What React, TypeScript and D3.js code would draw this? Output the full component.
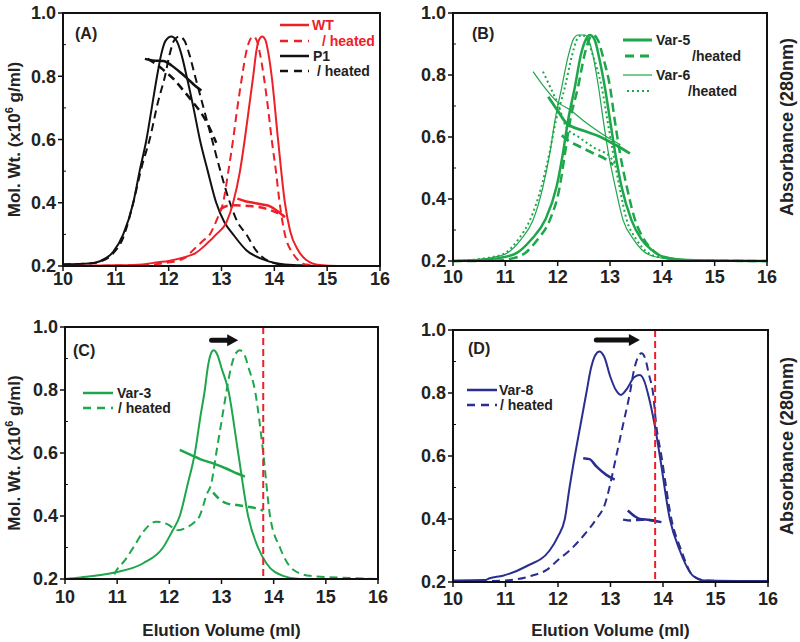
import React from 'react';
import * as d3 from 'd3';

type Pt = [number, number];

// ---- data (elution volume ml, value) ----
const xTicks = [10, 11, 12, 13, 14, 15, 16];
const yTicks = [0.2, 0.4, 0.6, 0.8, 1.0];
const yMinorTicks = [0.3, 0.5, 0.7, 0.9];

// (A)
const wtAbs: Pt[] = [[10, 0.2], [11, 0.202], [11.5, 0.205], [11.8, 0.212], [12.0, 0.216], [12.3, 0.228], [12.5, 0.24], [12.72, 0.27], [12.9, 0.3], [13.1, 0.34], [13.22, 0.4], [13.35, 0.5], [13.44, 0.6], [13.52, 0.7], [13.6, 0.8], [13.66, 0.88], [13.71, 0.915], [13.77, 0.926], [13.83, 0.915], [13.89, 0.87], [13.95, 0.8], [14.07, 0.6], [14.2, 0.4], [14.3, 0.31], [14.45, 0.25], [14.6, 0.22], [14.86, 0.203], [15.2, 0.2], [16, 0.2]];
const wtHeatedAbs: Pt[] = [[10, 0.2], [11.5, 0.203], [11.96, 0.21], [12.3, 0.225], [12.46, 0.25], [12.65, 0.28], [12.78, 0.3], [12.92, 0.35], [13.03, 0.4], [13.13, 0.5], [13.22, 0.6], [13.3, 0.7], [13.39, 0.8], [13.46, 0.87], [13.53, 0.912], [13.6, 0.926], [13.67, 0.912], [13.73, 0.87], [13.8, 0.8], [13.88, 0.7], [13.95, 0.6], [14.03, 0.5], [14.1, 0.4], [14.2, 0.3], [14.35, 0.24], [14.6, 0.205], [15, 0.2], [16, 0.2]];
const wtMw: Pt[] = [[13.3, 0.413], [13.45, 0.405], [13.6, 0.4], [13.75, 0.395], [13.9, 0.39], [14.05, 0.375], [14.2, 0.355]];
const wtHeatedMw: Pt[] = [[12.98, 0.38], [13.1, 0.39], [13.25, 0.392], [13.5, 0.39], [13.75, 0.385], [13.95, 0.375], [14.1, 0.365], [14.2, 0.355]];
const p1Abs: Pt[] = [[10, 0.205], [10.5, 0.208], [10.7, 0.215], [10.95, 0.245], [11.14, 0.3], [11.33, 0.4], [11.45, 0.5], [11.58, 0.6], [11.68, 0.7], [11.78, 0.8], [11.86, 0.87], [11.94, 0.912], [12.05, 0.926], [12.15, 0.912], [12.24, 0.87], [12.34, 0.8], [12.47, 0.7], [12.59, 0.6], [12.74, 0.5], [12.9, 0.4], [13.05, 0.34], [13.22, 0.3], [13.47, 0.25], [13.8, 0.22], [14.2, 0.205], [15, 0.2], [16, 0.2]];
const p1HeatedAbs: Pt[] = [[10, 0.205], [10.5, 0.208], [10.7, 0.214], [10.95, 0.24], [11.14, 0.29], [11.33, 0.4], [11.5, 0.52], [11.64, 0.6], [11.8, 0.72], [11.93, 0.8], [12.02, 0.87], [12.1, 0.912], [12.2, 0.926], [12.3, 0.912], [12.39, 0.87], [12.5, 0.8], [12.66, 0.7], [12.82, 0.6], [12.98, 0.5], [13.16, 0.4], [13.3, 0.34], [13.47, 0.3], [13.65, 0.25], [13.98, 0.21], [14.3, 0.202], [15, 0.2], [16, 0.2]];
const p1Mw: Pt[] = [[11.55, 0.855], [11.7, 0.85], [11.9, 0.848], [12.05, 0.835], [12.2, 0.815], [12.34, 0.795], [12.5, 0.77], [12.62, 0.755]];
const p1HeatedMw: Pt[] = [[11.6, 0.855], [11.75, 0.84], [11.9, 0.82], [12.1, 0.79], [12.27, 0.757], [12.45, 0.72], [12.59, 0.69], [12.75, 0.645], [12.9, 0.59]];

// (B)
const var5Abs: Pt[] = [[10, 0.2], [10.5, 0.203], [10.9, 0.21], [11.22, 0.226], [11.5, 0.27], [11.76, 0.332], [11.98, 0.44], [12.1, 0.547], [12.2, 0.655], [12.33, 0.762], [12.45, 0.87], [12.54, 0.915], [12.62, 0.929], [12.71, 0.912], [12.8, 0.85], [12.9, 0.762], [13.0, 0.655], [13.1, 0.548], [13.22, 0.44], [13.41, 0.332], [13.6, 0.27], [13.8, 0.235], [14.0, 0.215], [14.5, 0.203], [16, 0.2]];
const var5HeatedAbs: Pt[] = [[10, 0.2], [10.8, 0.201], [11.1, 0.207], [11.38, 0.226], [11.62, 0.27], [11.85, 0.332], [12.04, 0.44], [12.14, 0.547], [12.24, 0.655], [12.39, 0.762], [12.52, 0.87], [12.6, 0.915], [12.68, 0.929], [12.77, 0.912], [12.88, 0.85], [13.0, 0.762], [13.09, 0.655], [13.19, 0.548], [13.32, 0.44], [13.48, 0.332], [13.65, 0.27], [13.85, 0.23], [14.1, 0.21], [14.6, 0.202], [16, 0.2]];
const var6Abs: Pt[] = [[10, 0.2], [10.5, 0.205], [10.8, 0.213], [11.03, 0.225], [11.3, 0.27], [11.53, 0.332], [11.72, 0.44], [11.85, 0.547], [11.95, 0.655], [12.08, 0.762], [12.2, 0.86], [12.3, 0.915], [12.39, 0.929], [12.52, 0.929], [12.62, 0.9], [12.78, 0.762], [12.87, 0.655], [12.97, 0.548], [13.1, 0.44], [13.25, 0.332], [13.45, 0.27], [13.65, 0.23], [13.9, 0.212], [14.4, 0.203], [16, 0.2]];
const var6HeatedAbs: Pt[] = [[10, 0.2], [10.5, 0.206], [10.75, 0.213], [10.99, 0.225], [11.25, 0.27], [11.47, 0.332], [11.69, 0.44], [11.84, 0.547], [11.97, 0.655], [12.14, 0.762], [12.27, 0.86], [12.37, 0.915], [12.46, 0.929], [12.56, 0.915], [12.68, 0.86], [12.84, 0.762], [12.95, 0.655], [13.06, 0.548], [13.18, 0.44], [13.32, 0.332], [13.5, 0.27], [13.7, 0.23], [13.95, 0.212], [14.5, 0.203], [16, 0.2]];
const var5Mw: Pt[] = [[11.82, 0.73], [12.0, 0.685], [12.17, 0.644], [12.5, 0.62], [12.81, 0.601], [13.1, 0.575], [13.38, 0.547]];
const var5HeatedMw: Pt[] = [[12.08, 0.606], [12.2, 0.588], [12.36, 0.574], [12.65, 0.55], [12.94, 0.526], [13.06, 0.51]];
const var6Mw: Pt[] = [[11.53, 0.811], [11.75, 0.76], [11.98, 0.715], [12.24, 0.687], [12.55, 0.645], [12.85, 0.61], [13.2, 0.575]];
const var6HeatedMw: Pt[] = [[11.72, 0.811], [11.86, 0.76], [12.0, 0.709], [12.17, 0.63], [12.4, 0.6], [12.7, 0.565], [13.0, 0.536], [13.13, 0.505]];

// (C)
const var3Abs: Pt[] = [[10, 0.2], [10.3, 0.205], [10.93, 0.22], [11.5, 0.25], [11.88, 0.3], [12.05, 0.35], [12.2, 0.4], [12.35, 0.5], [12.49, 0.6], [12.6, 0.72], [12.68, 0.8], [12.74, 0.875], [12.79, 0.912], [12.85, 0.926], [12.92, 0.912], [13.0, 0.87], [13.13, 0.8], [13.32, 0.6], [13.51, 0.4], [13.7, 0.3], [13.86, 0.25], [14.18, 0.21], [14.5, 0.2], [16, 0.2]];
const var3HeatedAbs: Pt[] = [[10, 0.2], [10.9, 0.2], [10.96, 0.22], [11.15, 0.26], [11.31, 0.3], [11.5, 0.35], [11.75, 0.382], [11.95, 0.375], [12.17, 0.355], [12.35, 0.365], [12.48, 0.38], [12.58, 0.4], [12.72, 0.47], [12.8, 0.5], [12.9, 0.6], [13.0, 0.7], [13.1, 0.8], [13.18, 0.87], [13.26, 0.912], [13.35, 0.926], [13.44, 0.912], [13.52, 0.87], [13.64, 0.8], [13.8, 0.6], [13.93, 0.4], [14.12, 0.3], [14.37, 0.23], [14.7, 0.21], [15.5, 0.203], [16, 0.2]];
const var3Mw: Pt[] = [[12.2, 0.61], [12.4, 0.595], [12.6, 0.58], [12.84, 0.567], [13.1, 0.55], [13.3, 0.535], [13.45, 0.525]];
const var3HeatedMw: Pt[] = [[12.84, 0.474], [12.95, 0.455], [13.1, 0.44], [13.3, 0.435], [13.48, 0.43], [13.65, 0.425], [13.8, 0.417]];
const cMarker = 13.8;
const cArrow: Pt[] = [[12.81, 0.958], [13.32, 0.958]];

// (D)
const var8Abs: Pt[] = [[10, 0.205], [10.6, 0.206], [10.7, 0.212], [10.95, 0.22], [11.4, 0.25], [11.84, 0.3], [12.0, 0.345], [12.13, 0.4], [12.22, 0.5], [12.32, 0.6], [12.43, 0.7], [12.54, 0.8], [12.63, 0.88], [12.71, 0.92], [12.79, 0.932], [12.88, 0.915], [13.0, 0.85], [13.1, 0.81], [13.2, 0.794], [13.32, 0.815], [13.45, 0.85], [13.56, 0.857], [13.65, 0.835], [13.71, 0.8], [13.84, 0.7], [13.94, 0.6], [14.13, 0.4], [14.32, 0.3], [14.57, 0.22], [14.8, 0.205], [16, 0.203]];
const var8HeatedAbs: Pt[] = [[10, 0.2], [11.0, 0.205], [11.5, 0.22], [11.8, 0.24], [12.0, 0.27], [12.22, 0.3], [12.5, 0.35], [12.73, 0.4], [12.9, 0.45], [12.98, 0.5], [13.11, 0.6], [13.24, 0.7], [13.37, 0.8], [13.45, 0.875], [13.52, 0.912], [13.59, 0.926], [13.66, 0.91], [13.73, 0.86], [13.81, 0.8], [13.87, 0.7], [13.97, 0.6], [14.16, 0.4], [14.35, 0.3], [14.57, 0.22], [14.8, 0.205], [16, 0.2]];
const var8Mw1: Pt[] = [[12.48, 0.593], [12.6, 0.59], [12.73, 0.567], [12.92, 0.54], [13.08, 0.525]];
const var8Mw2: Pt[] = [[13.33, 0.427], [13.45, 0.41], [13.56, 0.4], [13.75, 0.397], [13.97, 0.39]];
const var8HeatedMw: Pt[] = [[13.24, 0.398], [13.4, 0.395], [13.6, 0.398], [13.8, 0.395], [13.94, 0.39]];
const dMarker = 13.85;
const dArrow: Pt[] = [[12.73, 0.968], [13.56, 0.968]];

const RED = '#ee2027';
const BLACK = '#111';
const GREEN = '#1ea64b';
const BLUE = '#2a2e8e';
const FONT = '"Liberation Sans", Arial, Helvetica, sans-serif';

type Series = { data: Pt[]; color: string; width: number; dash?: string };
type LegendItem = { label: string; color: string; width: number; dash?: string; y: number; x0: number; x1: number; tx: number; textColor?: string };

type PanelProps = {
  box: { left: number; right: number; top: number; bottom: number };
  tag: string;
  tagPos: Pt;
  series: Series[];
  legend: LegendItem[];
  tickOffset: number;
  leftTitle?: boolean;
  rightTitle?: boolean;
  bottomTitle?: boolean;
  marker?: number;
  arrow?: Pt[];
};

const Panel = ({ box, tag, tagPos, series, legend, tickOffset, leftTitle, rightTitle, bottomTitle, marker, arrow }: PanelProps) => {
  const x = d3.scaleLinear().domain([10, 16]).range([box.left, box.right]);
  const y = d3.scaleLinear().domain([0.2, 1.0]).range([box.bottom, box.top]);
  const line = d3.line<Pt>().x(d => x(d[0])).y(d => y(d[1])).curve(d3.curveMonotoneX);
  const midY = (box.top + box.bottom) / 2;

  let arrowEl = null;
  if (arrow) {
    const ax0 = x(arrow[0][0]);
    const ax1 = x(arrow[1][0]);
    const ay = y(arrow[0][1]);
    arrowEl = (
      <g>
        <line x1={ax0} x2={ax1 - 8} y1={ay} y2={ay} stroke={BLACK} strokeWidth={5} strokeLinecap="round" />
        <path d={`M${ax1},${ay} L${ax1 - 11},${ay - 6} L${ax1 - 11},${ay + 6} Z`} fill={BLACK} />
      </g>
    );
  }

  return (
    <g>
      {series.map((s, i) => (
        <path key={i} d={line(s.data) || ''} fill="none" stroke={s.color} strokeWidth={s.width}
          strokeDasharray={s.dash} strokeLinejoin="round" />
      ))}
      {marker !== undefined && (
        <line x1={x(marker)} x2={x(marker)} y1={box.top} y2={box.bottom} stroke={RED} strokeWidth={2} strokeDasharray="7,4" />
      )}
      {arrowEl}
      <rect x={box.left} y={box.top} width={box.right - box.left} height={box.bottom - box.top} fill="none" stroke={BLACK} strokeWidth={2} />
      {xTicks.map(t => (
        <g key={t}>
          <line x1={x(t)} x2={x(t)} y1={box.bottom} y2={box.bottom + 5} stroke={BLACK} strokeWidth={1.5} />
          <text x={x(t)} y={box.bottom + tickOffset} textAnchor="middle" fontSize={18} fontWeight="bold" fontFamily={FONT} fill="#222">{t}</text>
        </g>
      ))}
      {yTicks.map(t => (
        <g key={t}>
          <line x1={box.left - 5} x2={box.left} y1={y(t)} y2={y(t)} stroke={BLACK} strokeWidth={1.5} />
          <text x={box.left - 7} y={y(t)} dy="0.35em" textAnchor="end" fontSize={18} fontWeight="bold" fontFamily={FONT} fill="#222">{t.toFixed(1)}</text>
        </g>
      ))}
      {yMinorTicks.map(t => (
        <line key={t} x1={box.left} x2={box.left + 3} y1={y(t)} y2={y(t)} stroke={BLACK} strokeWidth={1} />
      ))}
      <text x={tagPos[0]} y={tagPos[1]} dy="0.35em" fontSize={16} fontWeight="bold" fontFamily={FONT} fill="#222">{tag}</text>
      {legend.map((l, i) => (
        <g key={i}>
          <line x1={l.x0} x2={l.x1} y1={l.y} y2={l.y} stroke={l.color} strokeWidth={l.width} strokeDasharray={l.dash} />
          <text x={l.tx} y={l.y} dy="0.35em" fontSize={14} fontWeight="bold" fontFamily={FONT} fill={l.textColor || '#222'}>{l.label}</text>
        </g>
      ))}
      {leftTitle && (
        <text transform={`translate(14,${midY}) rotate(-90)`} textAnchor="middle" dy="0.35em" fontSize={17} fontWeight="bold" fontFamily={FONT} fill="#222">
          Mol. Wt. (x10<tspan fontSize={11} dy="-7">6</tspan><tspan dy="7"> g/ml)</tspan>
        </text>
      )}
      {rightTitle && (
        <text transform={`translate(787,${midY - 10}) rotate(-90)`} textAnchor="middle" dy="0.35em" fontSize={18} fontWeight="bold" fontFamily={FONT} fill="#222">
          Absorbance (280nm)
        </text>
      )}
      {bottomTitle && (
        <text x={(box.left + box.right) / 2} y={630} dy="0.35em" textAnchor="middle" fontSize={17} fontWeight="bold" fontFamily={FONT} fill="#222">
          Elution Volume (ml)
        </text>
      )}
    </g>
  );
};

export default function App() {
  return (
    <svg width={800} height={642} style={{ position: 'absolute', left: 0, top: 0, background: '#fff' }}>
      <Panel
        box={{ left: 63, right: 380, top: 13, bottom: 266 }}
        tag="(A)" tagPos={[75, 33]} tickOffset={19} leftTitle
        series={[
          { data: p1Abs, color: BLACK, width: 2 },
          { data: p1HeatedAbs, color: BLACK, width: 2, dash: '8,5' },
          { data: p1Mw, color: BLACK, width: 2.5 },
          { data: p1HeatedMw, color: BLACK, width: 2.5, dash: '8,5' },
          { data: wtAbs, color: RED, width: 2 },
          { data: wtHeatedAbs, color: RED, width: 2, dash: '8,5' },
          { data: wtMw, color: RED, width: 2.5 },
          { data: wtHeatedMw, color: RED, width: 2.5, dash: '8,5' },
        ]}
        legend={[
          { label: 'WT', color: RED, width: 2.5, y: 25, x0: 280, x1: 309, tx: 312, textColor: RED },
          { label: '/ heated', color: RED, width: 2.5, dash: '8,6', y: 41, x0: 280, x1: 309, tx: 322, textColor: RED },
          { label: 'P1', color: BLACK, width: 2.5, y: 56, x0: 280, x1: 309, tx: 313 },
          { label: '/ heated', color: BLACK, width: 2.5, dash: '8,6', y: 71, x0: 280, x1: 309, tx: 317 },
        ]}
      />
      <Panel
        box={{ left: 453, right: 767, top: 13, bottom: 261 }}
        tag="(B)" tagPos={[472, 33]} tickOffset={22} rightTitle
        series={[
          { data: var6Abs, color: GREEN, width: 1.2 },
          { data: var6HeatedAbs, color: GREEN, width: 2, dash: '2,3' },
          { data: var5Abs, color: GREEN, width: 2.5 },
          { data: var5HeatedAbs, color: GREEN, width: 2.5, dash: '9,5' },
          { data: var6Mw, color: GREEN, width: 1.2 },
          { data: var6HeatedMw, color: GREEN, width: 2, dash: '2,3' },
          { data: var5Mw, color: GREEN, width: 2.8 },
          { data: var5HeatedMw, color: GREEN, width: 2.8, dash: '9,5' },
        ]}
        legend={[
          { label: 'Var-5', color: GREEN, width: 3, y: 40, x0: 623, x1: 652, tx: 656 },
          { label: '/heated', color: GREEN, width: 3, dash: '9,6', y: 56, x0: 625, x1: 652, tx: 692 },
          { label: 'Var-6', color: GREEN, width: 1.2, y: 75, x0: 623, x1: 652, tx: 656 },
          { label: '/heated', color: GREEN, width: 2, dash: '2,3', y: 91, x0: 627, x1: 652, tx: 688 },
        ]}
      />
      <Panel
        box={{ left: 65, right: 378, top: 327, bottom: 579 }}
        tag="(C)" tagPos={[73, 350]} tickOffset={24} leftTitle bottomTitle
        marker={cMarker} arrow={cArrow}
        series={[
          { data: var3Abs, color: GREEN, width: 2 },
          { data: var3HeatedAbs, color: GREEN, width: 2, dash: '8,5' },
          { data: var3Mw, color: GREEN, width: 2.5 },
          { data: var3HeatedMw, color: GREEN, width: 2.5, dash: '8,5' },
        ]}
        legend={[
          { label: 'Var-3', color: GREEN, width: 2.5, y: 393, x0: 83, x1: 113, tx: 117 },
          { label: '/ heated', color: GREEN, width: 2.5, dash: '8,6', y: 408, x0: 83, x1: 113, tx: 118 },
        ]}
      />
      <Panel
        box={{ left: 453, right: 768, top: 330, bottom: 582 }}
        tag="(D)" tagPos={[468, 348]} tickOffset={23} rightTitle bottomTitle
        marker={dMarker} arrow={dArrow}
        series={[
          { data: var8Abs, color: BLUE, width: 2 },
          { data: var8HeatedAbs, color: BLUE, width: 2, dash: '8,5' },
          { data: var8Mw1, color: BLUE, width: 2.5 },
          { data: var8Mw2, color: BLUE, width: 2.5 },
          { data: var8HeatedMw, color: BLUE, width: 2.5, dash: '8,5' },
        ]}
        legend={[
          { label: 'Var-8', color: BLUE, width: 2.5, y: 390, x0: 467, x1: 497, tx: 499 },
          { label: '/ heated', color: BLUE, width: 2.5, dash: '8,6', y: 405, x0: 467, x1: 497, tx: 500 },
        ]}
      />
    </svg>
  );
}
